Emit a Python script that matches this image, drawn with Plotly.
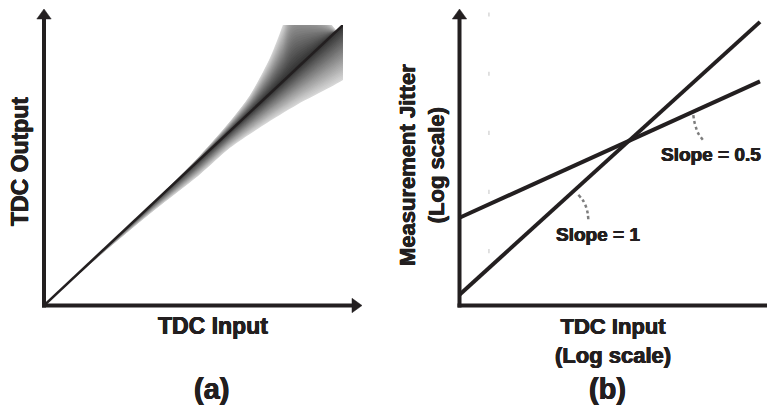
import math
import plotly.graph_objects as go

W, H = 767, 409
INK = "#231f20"
FONT = "Liberation Sans, Arial, sans-serif"
HEAVY = "0.45px 0 0 #231f20, -0.45px 0 0 #231f20, 0 0.3px 0 #231f20"

# ---- Panel (a): ideal TDC transfer line and the spread of real outputs ----
tdc_input = [0.0, 1.0]
tdc_output = [0.0, 1.0]
# outer edges of the output spread (same units as the transfer line)
spread_upper_x = [0.0, 0.254, 0.421, 0.522, 0.622, 0.689, 0.756, 0.799, 0.840]
spread_upper_y = [0.0, 0.254, 0.425, 0.535, 0.656, 0.750, 0.883, 1.000, 1.125]
spread_lower_x = [0.0, 0.187, 0.355, 0.522, 0.622, 0.732, 0.846, 0.957, 1.000, 1.057]
spread_lower_y = [0.0, 0.178, 0.328, 0.468, 0.562, 0.642, 0.716, 0.778, 0.804, 0.840]

# ---- Panel (b): measurement jitter vs. TDC input, log-log ----
input_log = [1, 100]
jitter_slope1 = [1.2, 120]
jitter_slope05 = [4.4, 44]
slope05_arc_x = [36.0, 36.4, 37.3, 38.8, 42.0]
slope05_arc_y = [24.9, 22.9, 20.5, 18.3, 16.2]
slope1_arc_x = [6.18, 6.61, 6.95, 7.13, 7.20]
slope1_arc_y = [6.46, 5.93, 5.30, 4.74, 4.29]
slope05_label = (47.2, 12.7)
slope1_label = (8.35, 3.34)
guide_x = 1.57
guide_y = [2.5, 6.8, 18.4, 50, 136]


def dom_x(left, right):
    return [left / W, right / W]


def dom_y(top, bottom):
    return [1 - bottom / H, 1 - top / H]


def px(x, y):
    return x / W, 1 - y / H


fig = go.Figure()

# shaded spread: opaque nested layers shrinking toward the ideal line,
# light at the outer edge and dark next to the line
layers = 30
light, dark = 214, 52
for k in range(layers):
    f = 1 - k / layers
    g = round(light + (dark - light) * k / (layers - 1))
    up = [x + f * (y - x) for x, y in zip(spread_upper_x, spread_upper_y)]
    lo = [x + f * (y - x) for x, y in zip(spread_lower_x, spread_lower_y)]
    fig.add_trace(go.Scatter(
        x=spread_upper_x + spread_lower_x[::-1],
        y=up + lo[::-1],
        mode="lines", fill="toself",
        fillcolor=f"rgb({g},{g},{g})",
        line=dict(width=0, shape="spline", smoothing=0.8),
        hoverinfo="skip", xaxis="x", yaxis="y"))

fig.add_trace(go.Scatter(
    x=tdc_input, y=tdc_output, mode="lines",
    line=dict(color=INK, width=2.5), hoverinfo="skip",
    xaxis="x", yaxis="y"))

# panel (b) traces
fig.add_trace(go.Scatter(
    x=[guide_x] * len(guide_y), y=guide_y, mode="markers",
    marker=dict(symbol="line-ns", size=3, line=dict(color="#cdcdcd", width=1.2)),
    hoverinfo="skip", xaxis="x2", yaxis="y2"))
fig.add_trace(go.Scatter(
    x=input_log, y=jitter_slope05, mode="lines",
    line=dict(color=INK, width=4), hoverinfo="skip", xaxis="x2", yaxis="y2"))
fig.add_trace(go.Scatter(
    x=input_log, y=jitter_slope1, mode="lines",
    line=dict(color=INK, width=4), hoverinfo="skip", xaxis="x2", yaxis="y2"))
for ax_, ay_ in ((slope05_arc_x, slope05_arc_y), (slope1_arc_x, slope1_arc_y)):
    fig.add_trace(go.Scatter(
        x=ax_, y=ay_, mode="lines",
        line=dict(color="#7d7d7d", width=2.5, dash="dot", shape="spline"),
        hoverinfo="skip", xaxis="x2", yaxis="y2"))

# axis lines and arrowheads, drawn in pixel positions
shapes = []


def seg(x0, y0, x1, y1):
    a, b = px(x0, y0)
    c, d = px(x1, y1)
    shapes.append(dict(type="line", xref="paper", yref="paper",
                       x0=a, y0=b, x1=c, y1=d,
                       line=dict(color=INK, width=4)))


def head(tx, ty, direction, half=7.2, length=10):
    if direction == "up":
        pts = [(tx, ty), (tx - half, ty + length), (tx + half, ty + length)]
    else:
        pts = [(tx, ty), (tx - length, ty - half), (tx - length, ty + half)]
    p = [px(x, y) for x, y in pts]
    path = "M{},{} L{},{} L{},{} Z".format(p[0][0], p[0][1], p[1][0], p[1][1],
                                          p[2][0], p[2][1])
    shapes.append(dict(type="path", xref="paper", yref="paper", path=path,
                       fillcolor=INK, line=dict(color=INK, width=0.5)))


# panel (a) axes
seg(44, 307.5, 44, 17)
seg(42, 305.5, 354, 305.5)
head(44, 9, "up")
head(362, 305.5, "right")
# panel (b) axes
seg(459.5, 307.5, 459.5, 17)
seg(457.5, 305.5, 767, 305.5)
head(459.5, 9, "up")

annotations = []


def font(size):
    return dict(family=FONT, size=size, color=INK, shadow=HEAVY)


def label(text, x, y, size, angle=0):
    a, b = px(x, y)
    annotations.append(dict(text=text, x=a, y=b, xref="paper", yref="paper",
                            showarrow=False, xanchor="center", yanchor="middle",
                            textangle=angle, font=font(size)))


label("<b>TDC Output</b>", 20, 162, 23, -90)
label("<b>TDC Input</b>", 213, 326, 23)
label("<b>(a)</b>", 211, 389, 29)
label("<b>Measurement Jitter<br>(Log scale)</b>", 422, 165, 22, -90)
label("<b>TDC Input<br>(Log scale)</b>", 613, 341, 22)
label("<b>(b)</b>", 607, 389, 29)

for txt, (lx, ly) in (("<b>Slope = 0.5</b>", slope05_label),
                      ("<b>Slope = 1</b>", slope1_label)):
    annotations.append(dict(text=txt, x=math.log10(lx), y=math.log10(ly),
                            xref="x2", yref="y2", showarrow=False,
                            xanchor="center", yanchor="middle", font=font(19)))

hidden = dict(visible=False, showgrid=False, zeroline=False)
fig.update_layout(
    width=W, height=H,
    margin=dict(l=0, r=0, t=0, b=0),
    paper_bgcolor="white", plot_bgcolor="rgba(0,0,0,0)",
    showlegend=False,
    xaxis=dict(domain=dom_x(44, 343), range=[0, 1], anchor="y", **hidden),
    yaxis=dict(domain=dom_y(25, 305.5), range=[0, 1], anchor="x", **hidden),
    xaxis2=dict(domain=dom_x(449, 767), type="log", range=[-0.0699, 2.0466],
                anchor="y2", **hidden),
    yaxis2=dict(domain=dom_y(0, 316), type="log", range=[-0.077, 2.2397],
                anchor="x2", **hidden),
    shapes=shapes,
    annotations=annotations,
)

fig.write_html("out.html")
